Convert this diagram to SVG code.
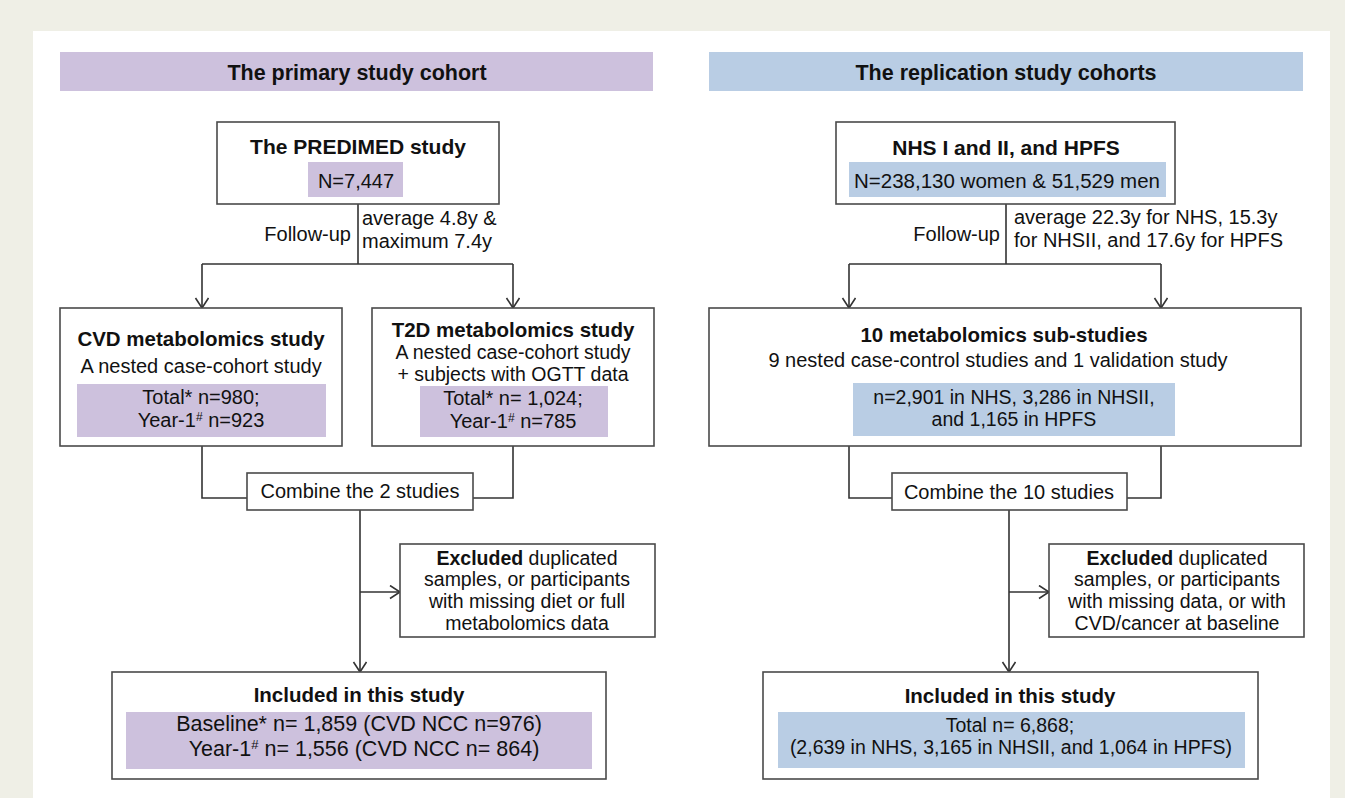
<svg xmlns="http://www.w3.org/2000/svg" width="1345" height="798" viewBox="0 0 1345 798">
<defs>
<style>
text{font-family:"Liberation Sans",Arial,sans-serif;fill:#111;font-size:20px}
.b{font-weight:bold}
.c{text-anchor:middle}
.e{text-anchor:end}
.sup{font-size:12px}
.box{fill:#fff;stroke:#4a4a4a;stroke-width:1.6}
.pu{fill:#cdc1dd}
.bl{fill:#b9cde4}
.ln{fill:none;stroke:#333;stroke-width:1.6}
.arr{marker-end:url(#ah)}
</style>
<marker id="ah" markerUnits="userSpaceOnUse" markerWidth="16" markerHeight="16" refX="11" refY="7" orient="auto">
<path d="M1,0.5 L11,7 L1,13.5" fill="none" stroke="#333" stroke-width="1.6"/>
</marker>
</defs>
<rect x="0" y="0" width="1345" height="798" fill="#efefe6"/>
<rect x="33" y="31" width="1297" height="767" fill="#fff"/>

<g id="header-primary">
<rect x="60" y="52" width="593" height="39" class="pu"/>
<text x="357" y="80" class="b c" style="font-size:21.5px">The primary study cohort</text>
</g>
<g id="header-replication">
<rect x="709" y="52" width="594" height="39" class="bl"/>
<text x="1006" y="80" class="b c" style="font-size:21.5px">The replication study cohorts</text>
</g>

<g id="connectors">
<path class="ln" d="M358,204 V264 M202,264 H513"/>
<path class="ln arr" d="M202,264 V308"/>
<path class="ln arr" d="M513,264 V308"/>
<path class="ln" d="M202,446 V498 H247 M513,446 V498 H473"/>
<path class="ln arr" d="M360,510 V672"/>
<path class="ln arr" d="M360,592 H400"/>
<path class="ln" d="M1006,204 V264 M849,264 H1161"/>
<path class="ln arr" d="M849,264 V308"/>
<path class="ln arr" d="M1161,264 V308"/>
<path class="ln" d="M849,446 V498 H892 M1161,446 V498 H1127"/>
<path class="ln arr" d="M1009,510 V672"/>
<path class="ln arr" d="M1009,592 H1049"/>
<text x="351" y="241" class="e">Follow-up</text>
<text><tspan x="362" y="224.5">average 4.8y &amp;</tspan><tspan x="362" y="247.5">maximum 7.4y</tspan></text>
<text x="1000" y="241" class="e">Follow-up</text>
<text><tspan x="1014" y="224">average 22.3y for NHS, 15.3y</tspan><tspan x="1014" y="247">for NHSII, and 17.6y for HPFS</tspan></text>
</g>

<g id="predimed">
<rect x="217" y="122" width="282" height="82" class="box"/>
<text x="358" y="154" class="b c" style="font-size:21px">The PREDIMED study</text>
<rect x="308" y="162" width="95" height="35" class="pu"/>
<text x="356" y="188" class="c">N=7,447</text>
</g>

<g id="cvd">
<rect x="60" y="308" width="282" height="138" class="box"/>
<text x="201" y="346" class="b c" style="font-size:20.5px">CVD metabolomics study</text>
<text x="201" y="373" class="c">A nested case-cohort study</text>
<rect x="77" y="384" width="249" height="53" class="pu"/>
<text class="c"><tspan x="201" y="403.5">Total* n=980;</tspan><tspan x="201" y="426.5">Year-1<tspan class="sup" dy="-6">#</tspan><tspan dy="6"> n=923</tspan></tspan></text>
</g>

<g id="t2d">
<rect x="372" y="308" width="282" height="138" class="box"/>
<text x="513" y="336.5" class="b c" style="font-size:20.5px">T2D metabolomics study</text>
<text class="c" style="font-size:19.5px"><tspan x="513" y="359">A nested case-cohort study</tspan><tspan x="513" y="381">+ subjects with OGTT data</tspan></text>
<rect x="420" y="386" width="188" height="51" class="pu"/>
<text class="c"><tspan x="513" y="404.5">Total* n= 1,024;</tspan><tspan x="513" y="427.5">Year-1<tspan class="sup" dy="-6">#</tspan><tspan dy="6"> n=785</tspan></tspan></text>
</g>

<g id="combine-left">
<rect x="247" y="473" width="226" height="37" class="box"/>
<text x="360" y="498" class="c">Combine the 2 studies</text>
</g>

<g id="excluded-left">
<rect x="400" y="544" width="255" height="93" class="box"/>
<text class="c" style="font-size:19.5px"><tspan x="527" y="564.5"><tspan class="b">Excluded</tspan> duplicated</tspan><tspan x="527" y="586.4">samples, or participants</tspan><tspan x="527" y="608.3">with missing diet or full</tspan><tspan x="527" y="630.2">metabolomics data</tspan></text>
</g>

<g id="included-left">
<rect x="112" y="672" width="494" height="107" class="box"/>
<text x="359" y="702" class="b c" style="font-size:20.5px">Included in this study</text>
<rect x="126" y="712" width="466" height="57" class="pu"/>
<text class="c" style="font-size:21.5px"><tspan x="359" y="731">Baseline* n= 1,859 (CVD NCC n=976)</tspan><tspan x="364" y="755.5">Year-1<tspan class="sup" style="font-size:13px" dy="-7">#</tspan><tspan dy="7"> n= 1,556 (CVD NCC n= 864)</tspan></tspan></text>
</g>

<g id="nhs">
<rect x="836" y="122" width="339" height="82" class="box"/>
<text x="1006" y="155" class="b c" style="font-size:21px">NHS I and II, and HPFS</text>
<rect x="849" y="162" width="317" height="35" class="bl"/>
<text x="1007" y="188" class="c" style="font-size:20.5px">N=238,130 women &amp; 51,529 men</text>
</g>

<g id="substudies">
<rect x="709" y="308" width="592" height="138" class="box"/>
<text x="1004" y="342" class="b c" style="font-size:20.5px">10 metabolomics sub-studies</text>
<text x="998" y="367" class="c">9 nested case-control studies and 1 validation study</text>
<rect x="853" y="383" width="322" height="53" class="bl"/>
<text class="c" style="font-size:19.5px"><tspan x="1014" y="403.5">n=2,901 in NHS, 3,286 in NHSII,</tspan><tspan x="1014" y="425.5">and 1,165 in HPFS</tspan></text>
</g>

<g id="combine-right">
<rect x="892" y="473" width="235" height="37" class="box"/>
<text x="1009" y="499" class="c">Combine the 10 studies</text>
</g>

<g id="excluded-right">
<rect x="1049" y="544" width="255" height="93" class="box"/>
<text class="c" style="font-size:19.5px"><tspan x="1177" y="564.5"><tspan class="b">Excluded</tspan> duplicated</tspan><tspan x="1177" y="586.4">samples, or participants</tspan><tspan x="1177" y="608.3">with missing data, or with</tspan><tspan x="1177" y="630.2">CVD/cancer at baseline</tspan></text>
</g>

<g id="included-right">
<rect x="763" y="672" width="495" height="107" class="box"/>
<text x="1010" y="703" class="b c" style="font-size:20.5px">Included in this study</text>
<rect x="778" y="712" width="467" height="56" class="bl"/>
<text class="c" style="font-size:19.5px"><tspan x="1010" y="732">Total n= 6,868;</tspan><tspan x="1011" y="754">(2,639 in NHS, 3,165 in NHSII, and 1,064 in HPFS)</tspan></text>
</g>
</svg>
